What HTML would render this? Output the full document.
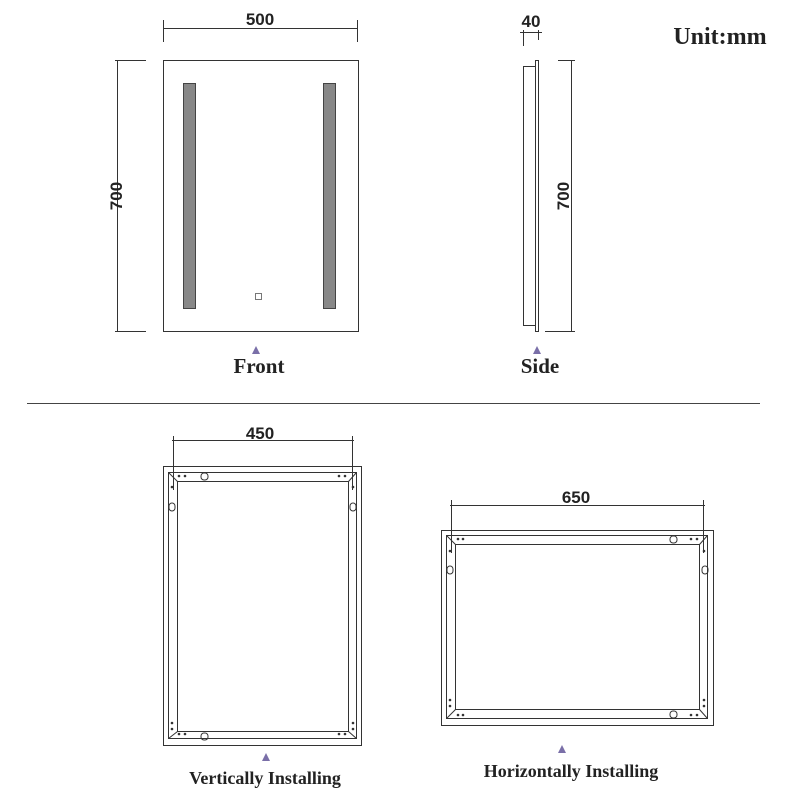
<!DOCTYPE html>
<html><head><meta charset="utf-8"><style>
html,body{margin:0;padding:0;background:#fff;}
svg{display:block}
.s{font-family:"Liberation Serif",serif;font-weight:bold;fill:#222}
.d{font-family:"Liberation Sans",sans-serif;font-weight:bold;fill:#222;font-size:17px}
</style></head><body>
<svg width="800" height="800" viewBox="0 0 800 800" xmlns="http://www.w3.org/2000/svg">
<g fill="none" stroke="#333" stroke-width="1">
<rect x="163.5" y="60.5" width="195" height="271"/>
<rect x="183.5" y="83.5" width="12" height="225" fill="#888" stroke="#444"/>
<rect x="323.5" y="83.5" width="12" height="225" fill="#888" stroke="#444"/>
<rect x="255.5" y="293.5" width="6" height="6" stroke="#777"/>
<line x1="163" y1="28.5" x2="358" y2="28.5"/>
<line x1="163.5" y1="20" x2="163.5" y2="42"/>
<line x1="357.5" y1="20" x2="357.5" y2="42"/>
<line x1="117.5" y1="60" x2="117.5" y2="331"/>
<line x1="115" y1="60.5" x2="146" y2="60.5"/>
<line x1="115" y1="331.5" x2="146" y2="331.5"/>
<rect x="523.5" y="66.5" width="12" height="259"/>
<rect x="535.5" y="60.5" width="3" height="271"/>
<line x1="520" y1="32.5" x2="542" y2="32.5"/>
<line x1="523.5" y1="30" x2="523.5" y2="46"/>
<line x1="538.5" y1="30" x2="538.5" y2="40"/>
<line x1="571.5" y1="60" x2="571.5" y2="331"/>
<line x1="558" y1="60.5" x2="575" y2="60.5"/>
<line x1="545" y1="331.5" x2="575" y2="331.5"/>
<line x1="27" y1="403.5" x2="760" y2="403.5" stroke="#444"/>
<rect x="163.5" y="466.5" width="198" height="279"/>
<rect x="168.5" y="472.5" width="188" height="266"/>
<rect x="177.5" y="481.5" width="171" height="250"/>
<line x1="168.5" y1="472.5" x2="177.5" y2="481.5"/>
<line x1="356.5" y1="472.5" x2="348.5" y2="481.5"/>
<line x1="168.5" y1="738.5" x2="177.5" y2="731.5"/>
<line x1="356.5" y1="738.5" x2="348.5" y2="731.5"/>
<line x1="173.5" y1="436" x2="173.5" y2="490"/>
<line x1="352.5" y1="436" x2="352.5" y2="490"/>
<line x1="172" y1="440.5" x2="354" y2="440.5"/>
<rect x="201" y="473" width="7" height="7" rx="3"/>
<rect x="201" y="733" width="7" height="7" rx="3"/>
<rect x="169" y="503" width="6" height="8" rx="3"/>
<rect x="350" y="503" width="6" height="8" rx="3"/>
<rect x="441.5" y="530.5" width="272" height="195"/>
<rect x="446.5" y="535.5" width="261" height="183"/>
<rect x="455.5" y="544.5" width="244" height="165"/>
<line x1="446.5" y1="535.5" x2="455.5" y2="544.5"/>
<line x1="707.5" y1="535.5" x2="699.5" y2="544.5"/>
<line x1="446.5" y1="718.5" x2="455.5" y2="709.5"/>
<line x1="707.5" y1="718.5" x2="699.5" y2="709.5"/>
<line x1="451.5" y1="500" x2="451.5" y2="553"/>
<line x1="703.5" y1="500" x2="703.5" y2="553"/>
<line x1="450" y1="505.5" x2="705" y2="505.5"/>
<rect x="670" y="536" width="7" height="7" rx="3"/>
<rect x="670" y="711" width="7" height="7" rx="3"/>
<rect x="447" y="566" width="6" height="8" rx="3"/>
<rect x="702" y="566" width="6" height="8" rx="3"/>
</g>
<g fill="#333">
<circle cx="179" cy="476" r="1.3"/><circle cx="185" cy="476" r="1.3"/>
<circle cx="339" cy="476" r="1.3"/><circle cx="345" cy="476" r="1.3"/>
<circle cx="172" cy="487" r="1.3"/><circle cx="353" cy="487" r="1.3"/>
<circle cx="179" cy="734" r="1.3"/><circle cx="185" cy="734" r="1.3"/>
<circle cx="339" cy="734" r="1.3"/><circle cx="345" cy="734" r="1.3"/>
<circle cx="172" cy="723" r="1.3"/><circle cx="172" cy="729" r="1.3"/>
<circle cx="353" cy="723" r="1.3"/><circle cx="353" cy="729" r="1.3"/>
<circle cx="458" cy="539" r="1.3"/><circle cx="463" cy="539" r="1.3"/>
<circle cx="691" cy="539" r="1.3"/><circle cx="697" cy="539" r="1.3"/>
<circle cx="450" cy="551" r="1.3"/><circle cx="704" cy="551" r="1.3"/>
<circle cx="458" cy="715" r="1.3"/><circle cx="463" cy="715" r="1.3"/>
<circle cx="691" cy="715" r="1.3"/><circle cx="697" cy="715" r="1.3"/>
<circle cx="450" cy="700" r="1.3"/><circle cx="450" cy="706" r="1.3"/>
<circle cx="704" cy="700" r="1.3"/><circle cx="704" cy="706" r="1.3"/>
</g>
<g fill="#7a6fa8">
<polygon points="256,346 252,354 260,354"/>
<polygon points="537,346 533,354 541,354"/>
<polygon points="266,753 262,761 270,761"/>
<polygon points="562,745 558,753 566,753"/>
</g>
<text class="d" x="260" y="25" text-anchor="middle">500</text>
<text class="d" x="531" y="27" text-anchor="middle">40</text>
<text class="d" transform="translate(122,196) rotate(-90)" text-anchor="middle">700</text>
<text class="d" transform="translate(569,196) rotate(-90)" text-anchor="middle">700</text>
<text class="d" x="260" y="439" text-anchor="middle">450</text>
<text class="d" x="576" y="503" text-anchor="middle">650</text>
<text class="s" x="259" y="373" font-size="21" text-anchor="middle">Front</text>
<text class="s" x="540" y="373" font-size="21" text-anchor="middle">Side</text>
<text class="s" x="720" y="44" font-size="24" text-anchor="middle">Unit:mm</text>
<text class="s" x="265" y="784" font-size="18" text-anchor="middle">Vertically Installing</text>
<text class="s" x="571" y="777" font-size="18" text-anchor="middle">Horizontally Installing</text>
</svg>
</body></html>
